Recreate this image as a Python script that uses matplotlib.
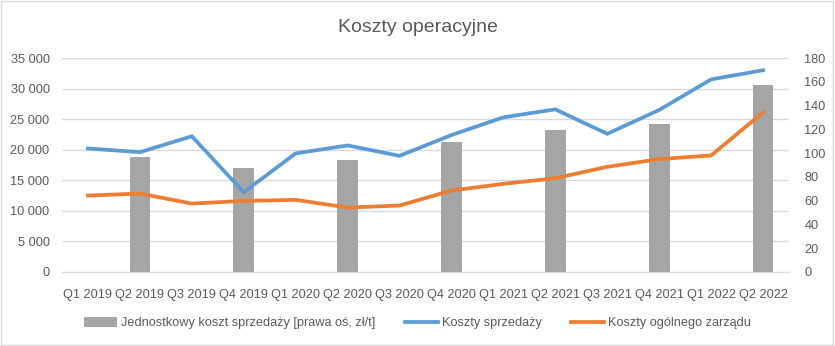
import numpy as np
import matplotlib
matplotlib.use("Agg")
import matplotlib.pyplot as plt
from matplotlib.patches import Rectangle, Patch
from matplotlib.lines import Line2D
from matplotlib.ticker import FuncFormatter, MultipleLocator

plt.rcParams['font.family'] = ['Liberation Sans', 'DejaVu Sans']

categories = ["Q1 2019", "Q2 2019", "Q3 2019", "Q4 2019", "Q1 2020", "Q2 2020", "Q3 2020",
              "Q4 2020", "Q1 2021", "Q2 2021", "Q3 2021", "Q4 2021", "Q1 2022", "Q2 2022"]
unit_cost = [np.nan, 97, np.nan, 87.6, np.nan, 94.4, np.nan,
             109.5, np.nan, 119.6, np.nan, 124.7, np.nan, 157.5]
selling_costs = [20200, 19600, 22200, 13050, 19400, 20700, 19000,
                 22400, 25300, 26600, 22600, 26500, 31500, 33000]
admin_costs = [12500, 12830, 11190, 11630, 11800, 10540, 10870,
               13320, 14420, 15340, 17200, 18460, 19060, 26100]

bar_label = "Jednostkowy koszt sprzedaży [prawa oś, zł/t]"
blue_label = "Koszty sprzedaży"
orange_label = "Koszty ogólnego zarządu"

BLUE = "#5B9BD5"
ORANGE = "#ED7D31"
GRAY = "#A5A5A5"
TXT = "#595959"

fig = plt.figure(figsize=(8.35, 3.46), dpi=100)
fig.patches.append(Rectangle((0.001, 0.002), 0.997, 0.995, transform=fig.transFigure,
                             fill=False, edgecolor="#D9D9D9", linewidth=1))
ax = fig.add_axes([62/835, 1-272/346, (789-62)/835, (272-58)/346])
ax2 = ax.twinx()

x = np.arange(len(categories))

# left axis: grid
ax.set_ylim(0, 35000)
ax.yaxis.set_major_locator(MultipleLocator(5000))
ax.yaxis.set_major_formatter(FuncFormatter(lambda v, p: f"{int(v):,}".replace(",", " ")))
ax.grid(axis="y", color="#D9D9D9", linewidth=1)
ax.set_axisbelow(True)
ax.set_xlim(-0.5, len(categories) - 0.5)

# bars on right axis
ax2.bar(x, unit_cost, width=0.4, color=GRAY, zorder=2)
ax2.set_ylim(0, 180)
ax2.yaxis.set_major_locator(MultipleLocator(20))

# lines drawn above bars, in left-axis data coords
ax2.plot(x, selling_costs, color=BLUE, linewidth=2.7, transform=ax.transData,
         solid_joinstyle="miter", zorder=3)
ax2.plot(x, admin_costs, color=ORANGE, linewidth=2.7, transform=ax.transData,
         solid_joinstyle="miter", zorder=3)

for a in (ax, ax2):
    for s in a.spines.values():
        s.set_visible(False)
    a.tick_params(axis="both", length=0, labelsize=9.2, labelcolor=TXT)
ax.spines["bottom"].set_visible(True)
ax.spines["bottom"].set_color("#D9D9D9")
ax.set_xticks(x)
ax.set_xticklabels(categories)
ax.tick_params(axis="x", pad=12)
ax.tick_params(axis="y", pad=9)
ax2.tick_params(axis="y", pad=11)

fig.text(0.5, 1-28/346, "Koszty operacyjne", ha="center", va="center",
         fontsize=14, color=TXT)

handles = [Patch(facecolor=GRAY, label=bar_label),
           Line2D([], [], color=BLUE, linewidth=2.7, label=blue_label),
           Line2D([], [], color=ORANGE, linewidth=2.7, label=orange_label)]
fig.legend(handles=handles, loc="center", bbox_to_anchor=(0.5, 1-323/346), ncol=3,
           frameon=False, fontsize=9.2, labelcolor=TXT, handlelength=2.6,
           handleheight=0.8, handletextpad=0.3, columnspacing=2.3)

fig.savefig("out.png", dpi=100)
